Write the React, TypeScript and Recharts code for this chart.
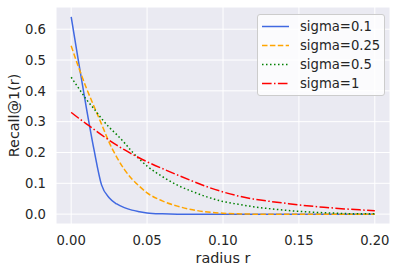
import { CartesianGrid, Legend, Line, LineChart, XAxis, YAxis } from "recharts";

document.body.style.margin = "0";

const radius = [
  0, 0.005, 0.01, 0.015, 0.02, 0.025, 0.03, 0.035, 0.04, 0.045, 0.05,
  0.06, 0.07, 0.08, 0.09, 0.1, 0.11, 0.12, 0.13, 0.14, 0.15, 0.16, 0.17, 0.18, 0.19, 0.2,
];
const sigma01 = [
  0.64, 0.49, 0.345, 0.21, 0.095, 0.053, 0.033, 0.021, 0.013, 0.008, 0.004,
  0.001, 0, 0, 0, 0, 0, 0, 0, 0, 0, 0, 0, 0, 0, 0,
];
const sigma025 = [
  0.546, 0.475, 0.409, 0.35, 0.292, 0.233, 0.185, 0.145, 0.114, 0.09, 0.069,
  0.043, 0.026, 0.014, 0.007, 0.003, 0.001, 0, 0, 0, 0, 0, 0, 0, 0, 0,
];
const sigma05 = [
  0.444, 0.408, 0.372, 0.342, 0.31, 0.282, 0.258, 0.232, 0.203, 0.178, 0.156,
  0.122, 0.094, 0.073, 0.055, 0.041, 0.032, 0.024, 0.018, 0.013, 0.009, 0.006, 0.004, 0.002, 0.001, 0.001,
];
const sigma1 = [
  0.33, 0.311, 0.293, 0.275, 0.257, 0.24, 0.224, 0.209, 0.195, 0.182, 0.17,
  0.148, 0.127, 0.107, 0.088, 0.072, 0.059, 0.049, 0.042, 0.036, 0.03, 0.025, 0.021, 0.017, 0.014, 0.011,
];
const xTicks = [0, 0.05, 0.1, 0.15, 0.2];
const yTicks = [0, 0.1, 0.2, 0.3, 0.4, 0.5, 0.6];

const series = [
  { key: "s01", name: "sigma=0.1", color: "#4169E1", dash: undefined as string | undefined },
  { key: "s025", name: "sigma=0.25", color: "#FFA500", dash: "5.5 2.4" },
  { key: "s05", name: "sigma=0.5", color: "#008000", dash: "1.5 2.5" },
  { key: "s1", name: "sigma=1", color: "#FF0000", dash: "9.6 2.4 1.5 2.4" },
];

const data = radius.map((r, i) => ({
  r,
  s01: sigma01[i],
  s025: sigma025[i],
  s05: sigma05[i],
  s1: sigma1[i],
}));

const TEXT = "#262626";
const FONT = "'DejaVu Sans', sans-serif";

function LegendBox() {
  return (
    <div
      style={{
        background: "rgba(255,255,255,0.8)",
        border: "1px solid #cccccc",
        borderRadius: 3,
        padding: "2px 0",
        fontFamily: FONT,
        fontSize: 13.2,
        color: TEXT,
        boxSizing: "border-box",
        width: 128,
        height: 82,
      }}
    >
      {series.map((s) => (
        <div key={s.key} style={{ display: "flex", alignItems: "center", height: 19 }}>
          <svg width={42} height={19} style={{ flex: "none" }}>
            <line x1={4} x2={31} y1={9.5} y2={9.5} stroke={s.color} strokeWidth={1.5} strokeDasharray={s.dash} />
          </svg>
          <span style={{ whiteSpace: "nowrap" }}>{s.name}</span>
        </div>
      ))}
    </div>
  );
}

export default function App() {
  return (
    <div style={{ width: 398, height: 273, background: "#fff", fontFamily: FONT }}>
      <LineChart width={398} height={273} data={data} margin={{ top: 7, right: 8, left: 0, bottom: 0 }}>
        <CartesianGrid fill="#EAEAF2" stroke="#ffffff" strokeWidth={1} />
        <XAxis
          dataKey="r"
          type="number"
          domain={[-0.01, 0.21]}
          ticks={xTicks}
          allowDataOverflow
          tickFormatter={(v: number) => v.toFixed(2)}
          axisLine={false}
          tickLine={false}
          tickSize={0}
          tickMargin={12}
          height={49}
          tick={{ fill: TEXT, fontSize: 13.2, fontFamily: FONT }}
          label={{ value: "radius r", position: "insideBottom", offset: 10, fill: TEXT, fontSize: 14.4, fontFamily: FONT }}
        />
        <YAxis
          type="number"
          domain={[-0.032, 0.672]}
          ticks={yTicks}
          allowDataOverflow
          tickFormatter={(v: number) => v.toFixed(1)}
          axisLine={false}
          tickLine={false}
          tickSize={0}
          tickMargin={10}
          width={56}
          tick={{ fill: TEXT, fontSize: 13.2, fontFamily: FONT }}
          label={{
            value: "Recall@1(r)",
            angle: -90,
            position: "insideLeft",
            offset: 14,
            fill: TEXT,
            fontSize: 14.4,
            fontFamily: FONT,
            style: { textAnchor: "middle" },
          }}
        />
        {series.map((s) => (
          <Line
            key={s.key}
            type="monotone"
            dataKey={s.key}
            name={s.name}
            stroke={s.color}
            strokeWidth={1.5}
            strokeDasharray={s.dash}
            dot={false}
            activeDot={false}
            isAnimationActive={false}
          />
        ))}
        <Legend
          layout="horizontal"
          verticalAlign="middle"
          align="center"
          content={() => <LegendBox />}
          wrapperStyle={{ left: 257, top: 14, width: 128, height: 82 }}
        />
      </LineChart>
    </div>
  );
}
